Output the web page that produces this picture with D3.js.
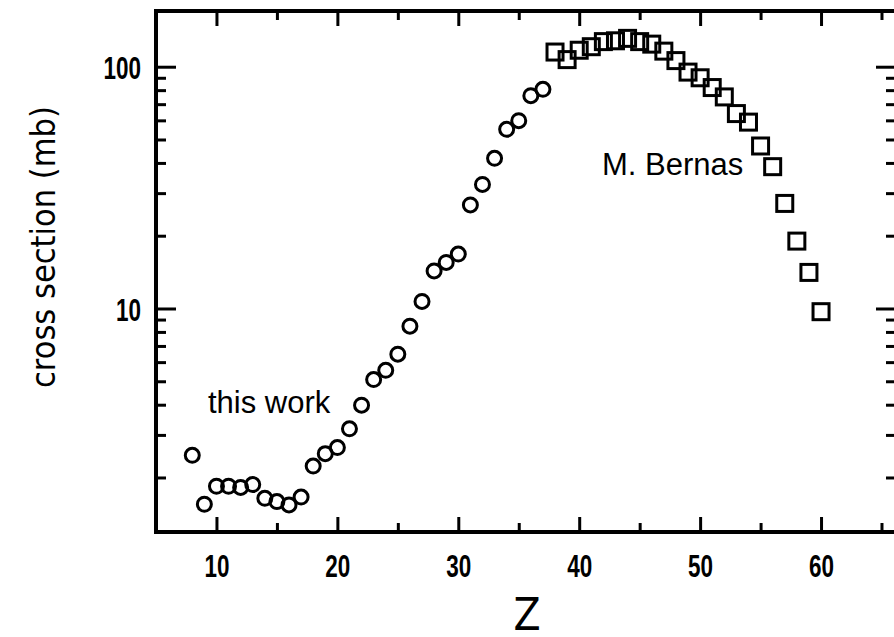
<!DOCTYPE html>
<html>
<head>
<meta charset="utf-8">
<script src="https://cdn.jsdelivr.net/npm/d3@7"></script>
<style>
  html, body { margin: 0; padding: 0; background: #fff; }
  svg { display: block; }
</style>
</head>
<body>
<svg id="chart" width="894" height="637"></svg>
<script>
// ---- data ----
const thisWorkZ = [8, 9, 10, 11, 12, 13, 14, 15, 16, 17, 18, 19, 20, 21, 22, 23, 24, 25, 26, 27, 28, 29, 30, 31, 32, 33, 34, 35, 36, 37];
const thisWorkSigma = [2.47, 1.55, 1.84, 1.84, 1.82, 1.87, 1.64, 1.59, 1.54, 1.66, 2.23, 2.51, 2.66, 3.18, 3.98, 5.08, 5.55, 6.47, 8.45, 10.7, 14.3, 15.5, 16.8, 26.8, 32.6, 41.8, 55.1, 59.8, 75.9, 80.6];
const bernasZ = [38, 39, 40, 41, 42, 43, 44, 45, 46, 47, 48, 49, 50, 51, 52, 53, 54, 55, 56, 57, 58, 59, 60];
const bernasSigma = [115, 107, 117, 121, 127, 128, 131, 127, 124, 116, 106, 95, 90, 82, 75, 64, 59, 47, 38.6, 27.2, 19.0, 14.1, 9.7];
const xMajorTicks = [10, 20, 30, 40, 50, 60];
const xMinorTicks = [5, 15, 25, 35, 45, 55, 65];
const yMajorTicks = [10, 100];
const yMinorTicks = [2, 3, 4, 5, 6, 7, 8, 9, 20, 30, 40, 50, 60, 70, 80, 90];
const xTitle = "Z";
const yTitle = "cross section (mb)";
const labelThisWork = "this work";
const labelBernas = "M. Bernas";

// ---- layout ----
const svg = d3.select("#chart");
const mLeft = 156, mRight = 896, mTop = 11, mBottom = 532;
const x = d3.scaleLinear().domain([5, 66.2]).range([mLeft, mRight]);
const y = d3.scaleLog().domain([1.19, 170]).range([mBottom, mTop]);

const tickFont = "'Liberation Sans', Arial, sans-serif";
const digitW = 12.5;

function styleAxis(g) {
  g.select(".domain").remove();
  g.selectAll(".tick line").attr("stroke", "#000").attr("stroke-width", 3);
}
function styleTickText(sel) {
  sel.attr("font-family", tickFont).attr("font-weight", "bold").attr("font-size", 32)
    .attr("fill", "#000")
    .attr("lengthAdjust", "spacingAndGlyphs")
    .attr("textLength", function () { return this.textContent.length * digitW; });
}

// bottom major with labels
const gb = svg.append("g").attr("transform", `translate(0,${mBottom})`)
  .call(d3.axisBottom(x).tickValues(xMajorTicks).tickSize(-15).tickFormat(d3.format("d")));
styleAxis(gb);
gb.selectAll(".tick text").attr("y", 0).attr("dy", 0).attr("transform", "translate(0,45)").call(styleTickText);
const gbm = svg.append("g").attr("transform", `translate(0,${mBottom})`)
  .call(d3.axisBottom(x).tickValues(xMinorTicks).tickSize(-9).tickFormat(""));
styleAxis(gbm);

// top
const gt = svg.append("g").attr("transform", `translate(0,${mTop})`)
  .call(d3.axisTop(x).tickValues(xMajorTicks).tickSize(-15).tickFormat(""));
styleAxis(gt);
const gtm = svg.append("g").attr("transform", `translate(0,${mTop})`)
  .call(d3.axisTop(x).tickValues(xMinorTicks).tickSize(-9).tickFormat(""));
styleAxis(gtm);

// left
const gl = svg.append("g").attr("transform", `translate(${mLeft},0)`)
  .call(d3.axisLeft(y).tickValues(yMajorTicks).tickSize(-20).tickFormat(d3.format("d")));
styleAxis(gl);
gl.selectAll(".tick text").attr("x", -15).attr("dy", "0.36em").call(styleTickText);
const glm = svg.append("g").attr("transform", `translate(${mLeft},0)`)
  .call(d3.axisLeft(y).tickValues(yMinorTicks).tickSize(-10).tickFormat(""));
styleAxis(glm);

// right
const gr = svg.append("g").attr("transform", `translate(${mRight},0)`)
  .call(d3.axisRight(y).tickValues(yMajorTicks).tickSize(-20).tickFormat(""));
styleAxis(gr);
const grm = svg.append("g").attr("transform", `translate(${mRight},0)`)
  .call(d3.axisRight(y).tickValues(yMinorTicks).tickSize(-10).tickFormat(""));
styleAxis(grm);

// frame
svg.append("rect")
  .attr("x", mLeft).attr("y", mTop)
  .attr("width", mRight - mLeft).attr("height", mBottom - mTop)
  .attr("fill", "none").attr("stroke", "#000").attr("stroke-width", 4);

// markers
svg.append("g").selectAll("circle")
  .data(thisWorkZ.map((z, i) => [z, thisWorkSigma[i]]))
  .join("circle")
  .attr("cx", d => x(d[0])).attr("cy", d => y(d[1])).attr("r", 7)
  .attr("fill", "none").attr("stroke", "#000").attr("stroke-width", 3);

const s = 16;
svg.append("g").selectAll("rect")
  .data(bernasZ.map((z, i) => [z, bernasSigma[i]]))
  .join("rect")
  .attr("x", d => x(d[0]) - s / 2).attr("y", d => y(d[1]) - s / 2)
  .attr("width", s).attr("height", s)
  .attr("fill", "none").attr("stroke", "#000").attr("stroke-width", 3);

// annotations
svg.append("text").attr("x", 208).attr("y", 413)
  .attr("font-family", "'Liberation Sans', Arial, sans-serif").attr("font-size", 31)
  .text(labelThisWork);
svg.append("text").attr("x", 602).attr("y", 175)
  .attr("font-family", "'Liberation Sans', Arial, sans-serif").attr("font-size", 31)
  .text(labelBernas);

// titles
svg.append("text").attr("x", 527).attr("y", 630)
  .attr("text-anchor", "middle")
  .attr("font-family", "'DejaVu Sans Condensed', 'Liberation Sans', sans-serif").attr("font-size", 44)
  .text(xTitle);
svg.append("text")
  .attr("transform", "translate(55,247) rotate(-90)")
  .attr("text-anchor", "middle")
  .attr("font-family", "'DejaVu Sans Condensed', 'Liberation Sans', sans-serif").attr("font-size", 34)
  .text(yTitle);
</script>
</body>
</html>
